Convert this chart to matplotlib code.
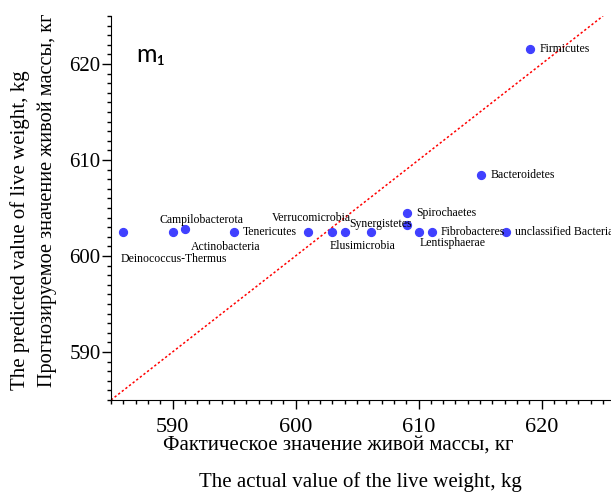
import matplotlib.pyplot as plt
from matplotlib.ticker import MultipleLocator

# actual vs predicted live weight, kg
actual = [586.0, 590.0, 591.0, 595.0, 601.0, 603.0, 604.0, 606.1,
          609.1, 609.1, 610.0, 611.1, 617.1, 615.1, 619.1]
predicted = [602.5, 602.5, 602.8, 602.5, 602.5, 602.5, 602.5, 602.5,
             603.2, 604.5, 602.5, 602.5, 602.5, 608.4, 621.6]
labels = ['Deinococcus-Thermus', 'Actinobacteria', 'Campilobacterota',
          'Tenericutes', 'Verrucomicrobia', '', 'Elusimicrobia',
          'Synergistetes', '', 'Spirochaetes', 'Lentisphaerae',
          'Fibrobacteres', 'unclassified Bacteria', 'Bacteroidetes',
          'Firmicutes']
diag = [585, 625]

# label offsets in pixels (dx, dy, ha)
offsets = [(-3, -27, 'left'), (53, -15, 'center'), (17, 9, 'center'),
           (9, 0, 'left'), (4, 14, 'center'), (0, 0, 'left'),
           (18, -14, 'center'), (10, 8, 'center'), (0, 0, 'left'),
           (9, 0, 'left'), (34, -11, 'center'), (9, 0, 'left'),
           (9, 0, 'left'), (9, 0, 'left'), (9, 0, 'left')]

serif = 'Liberation Serif'

fig = plt.figure(figsize=(6.11, 4.93), dpi=100)
ax = fig.add_axes([111 / 611, 1 - 400 / 493, 500 / 611, 384 / 493])

ax.plot(diag, diag, color='red', linestyle=(0, (1.5, 1.5)), linewidth=1.1)
ax.scatter(actual, predicted, s=32, color='#4040ff', zorder=3)

for x, y, lab, (dx, dy, ha) in zip(actual, predicted, labels, offsets):
    if lab:
        ax.annotate(lab, (x, y), xytext=(dx, dy), textcoords='offset pixels',
                    ha=ha, va='center', fontsize=8.5, family=serif)

ax.set_xlim(585, 625.65)
ax.set_ylim(585, 625)
ax.xaxis.set_major_locator(MultipleLocator(10))
ax.xaxis.set_minor_locator(MultipleLocator(1))
ax.yaxis.set_major_locator(MultipleLocator(10))
ax.yaxis.set_minor_locator(MultipleLocator(1))
ax.spines['top'].set_visible(False)
ax.spines['right'].set_visible(False)
ax.tick_params(which='major', length=6.5, width=1, direction='out')
ax.tick_params(which='minor', length=3, width=1, direction='out')
ax.tick_params(axis='x', labelsize=16, labelfontfamily=serif, pad=6.5)
ax.tick_params(axis='y', labelsize=15, labelfontfamily=serif, pad=1)

ax.text(0.05, 0.9, 'm₁', transform=ax.transAxes, fontsize=18,
        family=['Lato', 'DejaVu Sans'], va='center')

fig.text(338 / 611, 1 - 445 / 493, 'Фактическое значение живой массы, кг',
         ha='center', va='center', fontsize=15, family=serif)
fig.text(360 / 611, 1 - 482 / 493, 'The actual value of the live weight, kg',
         ha='center', va='center', fontsize=15, family=serif)
fig.text(20 / 611, 1 - 230 / 493, 'The predicted value of live weight, kg',
         ha='center', va='center', rotation=90, fontsize=15, family=serif)
fig.text(47 / 611, 1 - 200 / 493, 'Прогнозируемое значение живой массы, кг',
         ha='center', va='center', rotation=90, fontsize=14.6, family=serif)

fig.savefig('out.png', dpi=100)
